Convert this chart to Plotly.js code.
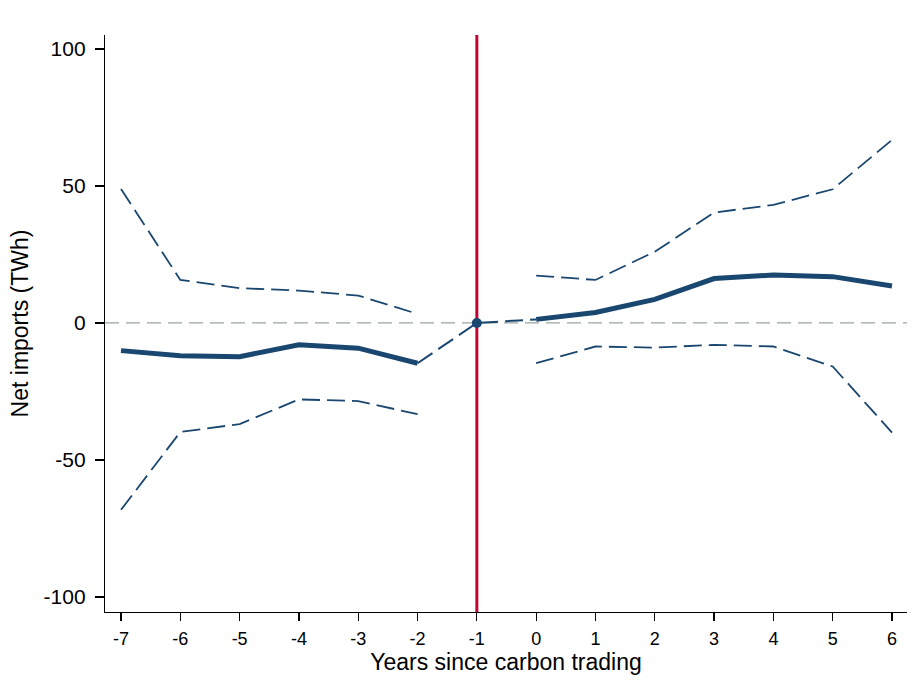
<!DOCTYPE html>
<html>
<head>
<meta charset="utf-8">
<script src="https://cdn.plot.ly/plotly-3.0.1.min.js"></script>
<style>html,body{margin:0;padding:0;background:#fff;}#chart{width:917px;height:697px;}</style>
</head>
<body>
<div id="chart"></div>
<script>
// Data
const years = [-7, -6, -5, -4, -3, -2, -1, 0, 1, 2, 3, 4, 5, 6];
const coef  = [-10.1, -12.0, -12.3, -8.0, -9.2, -14.7, 0, 1.3, 3.8, 8.6, 16.2, 17.5, 16.9, 13.5];
const upper = [48.9, 15.7, 12.7, 11.8, 10.0, 3.3, null, 17.3, 15.7, 26.0, 40.3, 43.1, 48.8, 66.8];
const lower = [-68.2, -39.8, -36.9, -27.9, -28.5, -33.3, null, -14.7, -8.6, -9.0, -8.0, -8.6, -15.9, -40.0];
const refYear = -1;
const xTicks = [-7, -6, -5, -4, -3, -2, -1, 0, 1, 2, 3, 4, 5, 6];
const yTicks = [-100, -50, 0, 50, 100];

const navy = '#1a476f';
const iRef = years.indexOf(refYear);
const pre = years.map((y, i) => i).filter(i => years[i] < refYear);
const post = years.map((y, i) => i).filter(i => years[i] > refYear);
const conn = [pre[pre.length - 1], iRef, post[0]];
const pick = (arr, idx) => idx.map(i => arr[i]);

const traces = [
  {x: years, y: upper, mode: 'lines', connectgaps: false,
   line: {color: navy, width: 1.8, dash: '18px,7px'}, hoverinfo: 'skip'},
  {x: years, y: lower, mode: 'lines', connectgaps: false,
   line: {color: navy, width: 1.8, dash: '18px,7px'}, hoverinfo: 'skip'},
  {x: pick(years, conn), y: pick(coef, conn), mode: 'lines',
   line: {color: navy, width: 2, dash: '18px,7px'}},
  {x: pick(years, pre), y: pick(coef, pre), mode: 'lines',
   line: {color: navy, width: 5}},
  {x: pick(years, post), y: pick(coef, post), mode: 'lines',
   line: {color: navy, width: 5}},
  {x: [years[iRef]], y: [coef[iRef]], mode: 'markers',
   marker: {color: navy, size: 10}}
];

const font = 'Liberation Sans, Arial, Helvetica, sans-serif';
const layout = {
  width: 917, height: 697,
  margin: {l: 105, r: 10, t: 35, b: 85},
  paper_bgcolor: '#ffffff', plot_bgcolor: '#ffffff',
  showlegend: false,
  font: {family: font, color: '#000'},
  xaxis: {
    range: [-7.27, 6.253], tickvals: xTicks, ticktext: xTicks.map(String),
    showgrid: false, zeroline: false, showline: true, linecolor: '#000', linewidth: 1.2,
    ticks: 'outside', ticklen: 8, tickcolor: '#000', tickwidth: 1.2,
    tickfont: {size: 18, family: font}, ticklabelstandoff: 2,
    title: {text: 'Years since carbon trading', font: {size: 23, family: font}, standoff: 4}
  },
  yaxis: {
    range: [-105.5, 105.1], tickvals: yTicks, ticktext: yTicks.map(String),
    showgrid: false, zeroline: false, showline: true, linecolor: '#000', linewidth: 1.2,
    ticks: 'outside', ticklen: 9, tickcolor: '#000', tickwidth: 1.2,
    tickfont: {size: 21, family: font}, ticklabelstandoff: 5,
    title: {text: 'Net imports (TWh)', font: {size: 23, family: font}, standoff: 8}
  },
  shapes: [
    {type: 'line', xref: 'paper', yref: 'y', x0: 0, x1: 1, y0: 0, y1: 0,
     line: {color: '#98a6a2', width: 1.3, dash: '14px,7px'}, layer: 'below'},
    {type: 'line', xref: 'x', yref: 'paper', x0: refYear, x1: refYear, y0: 0, y1: 1,
     line: {color: '#c10534', width: 3}, layer: 'below'}
  ]
};

Plotly.newPlot('chart', traces, layout, {staticPlot: true, displayModeBar: false});
</script>
</body>
</html>
